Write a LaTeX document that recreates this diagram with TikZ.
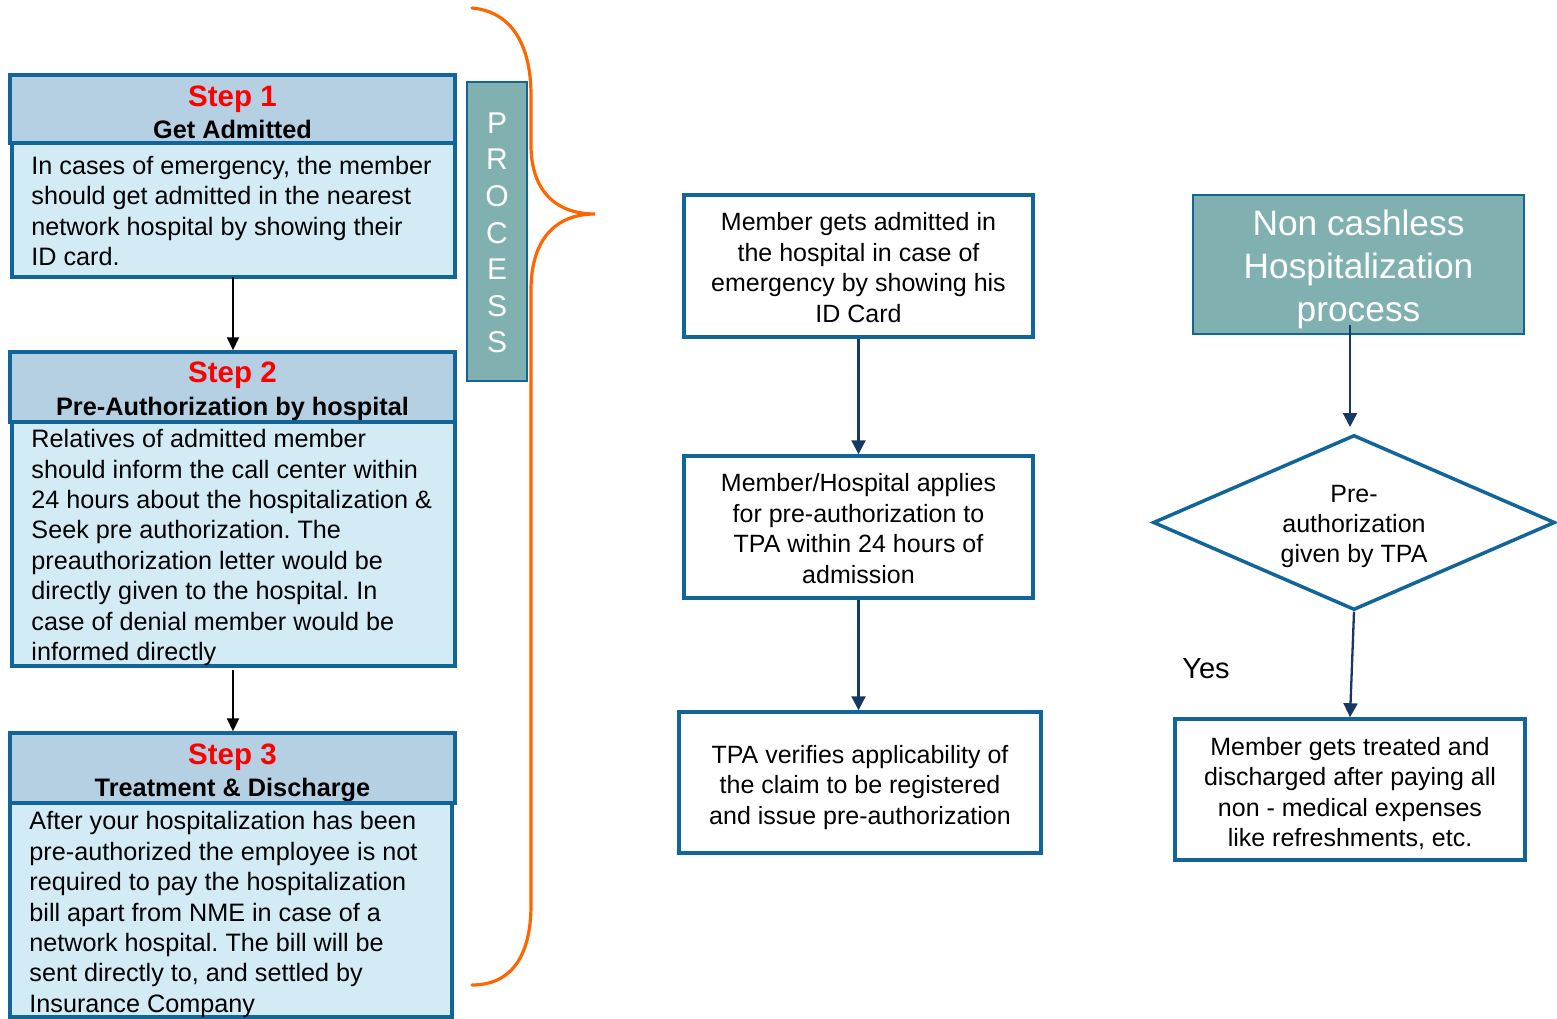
\documentclass[tikz,border=0pt]{standalone}
\usepackage{fontspec}
\setmainfont{Liberation Sans}
\frenchspacing
\usetikzlibrary{shapes.geometric,arrows.meta,calc}
\definecolor{oblue}{RGB}{17,101,153}
\definecolor{hdrfill}{RGB}{180,208,226}
\definecolor{bdyfill}{RGB}{210,235,245}
\definecolor{teal}{RGB}{128,177,176}
\definecolor{navy}{RGB}{22,56,100}
\definecolor{brace}{RGB}{255,102,0}
\definecolor{stepred}{RGB}{255,0,0}
\begin{document}
\begin{tikzpicture}[x=1pt,y=1pt,
  hdr/.style={draw=oblue,line width=3.5pt,fill=hdrfill,rectangle,inner sep=0pt},
  bdy/.style={draw=oblue,line width=3.5pt,fill=bdyfill,rectangle,inner sep=0pt},
  mbox/.style={draw=oblue,line width=3.5pt,fill=white,rectangle,inner sep=0pt},
  hdrtxt/.style={align=center,inner sep=0pt,font=\fontsize{25.3}{32.5}\selectfont\bfseries},
  bdytxt/.style={align=left,inner sep=0pt,font=\fontsize{25.2}{30.4}\selectfont},
  boxtxt/.style={align=center,inner sep=0pt,font=\fontsize{25}{30.4}\selectfont},
  barr/.style={draw=black,line width=2pt,-{Triangle[width=12pt,length=13pt]}},
  narr/.style={draw=navy,line width=2.3pt,-{Triangle[width=14pt,length=14pt]}}
]
\useasboundingbox (0,0) rectangle (1557,-1019);

% ---- Left column ----
\node[hdr,minimum width=445pt,minimum height=68pt] (h1) at (232.5,-109) {};
\node[hdrtxt] (h1t) at ($(h1.center)+(0,-3.5)$)
  {{\color{stepred}\fontsize{29.5}{30}\selectfont Step 1}\\Get Admitted};
\node[bdy,minimum width=443pt,minimum height=134pt] (b1) at (233.5,-210) {};
\node[bdytxt,anchor=west] (b1t) at ($(b1.west)+(21,-1)$)
  {In cases of emergency, the member\\should get admitted in the nearest\\network hospital by showing their\\ID card.};

\node[hdr,minimum width=445pt,minimum height=70pt] (h2) at (232.5,-387) {};
\node[hdrtxt] (h2t) at ($(h2.center)+(0,-4.5)$)
  {{\color{stepred}\fontsize{29.5}{30}\selectfont Step 2}\\Pre-Authorization by hospital};
\node[bdy,minimum width=443pt,minimum height=244pt] (b2) at (233.5,-544) {};
\node[bdytxt,anchor=west] (b2t) at ($(b2.west)+(21,-3.5)$)
  {Relatives of admitted member\\should inform the call center within\\24 hours about the hospitalization \&\\Seek pre authorization. The\\preauthorization letter would be\\directly given to the hospital. In\\case of denial member would be\\informed directly};

\node[hdr,minimum width=445pt,minimum height=70pt] (h3) at (232.5,-768) {};
\node[hdrtxt] (h3t) at ($(h3.center)+(0,-5)$)
  {{\color{stepred}\fontsize{29.5}{30}\selectfont Step 3}\\Treatment \& Discharge};
\node[bdy,minimum width=442pt,minimum height=214pt] (b3) at (231,-910) {};
\node[bdytxt,anchor=west] (b3t) at ($(b3.west)+(21,-4.5)$)
  {After your hospitalization has been\\pre-authorized the employee is not\\required to pay the hospitalization\\bill apart from NME in case of a\\network hospital. The bill will be\\sent directly to, and settled by\\Insurance Company};

\coordinate (a1s) at (233,-277);
\coordinate (a2s) at (233,-670);
\draw[barr] (a1s) -- (a1s |- h2.north);
\draw[barr] (a2s) -- (a2s |- h3.north);

% ---- PROCESS bar ----
\node[draw=oblue,line width=1.5pt,fill=teal,rectangle,minimum width=60pt,minimum height=299pt,
  inner sep=0pt] (proc) at (497,-231.5) {};
\node[align=center,inner sep=0pt,text=white,font=\fontsize{30}{36.6}\selectfont] (proct)
  at ($(proc.center)+(0,-1.5)$) {P\\R\\O\\C\\E\\S\\S};

% ---- Brace ----
\coordinate (btop) at (472,-8);
\coordinate (btip) at (595,-214);
\coordinate (bbot) at (472,-985);
\draw[brace,line width=3.2pt,line cap=round]
  (btop) .. controls (515,-12) and (531,-50) .. (531,-95)
  -- (531,-145) .. controls (531,-190) and (555,-214) .. (btip)
  .. controls (555,-214) and (531,-240) .. (531,-290)
  -- (531,-905) .. controls (531,-955) and (512,-985) .. (bbot);

% ---- Middle column ----
\node[mbox,minimum width=349pt,minimum height=142pt] (m1) at (858.5,-266) {};
\node[boxtxt] (m1t) at ($(m1.center)+(0,-1.5)$)
  {Member gets admitted in\\the hospital in case of\\emergency by showing his\\ID Card};
\node[mbox,minimum width=349pt,minimum height=142pt] (m2) at (858.5,-527) {};
\node[boxtxt] (m2t) at ($(m2.center)+(0,-1.5)$)
  {Member/Hospital applies\\for pre-authorization to\\TPA within 24 hours of\\admission};
\node[mbox,minimum width=362pt,minimum height=141pt] (m3) at (860,-782.5) {};
\node[boxtxt] (m3t) at ($(m3.center)+(0,-5)$)
  {TPA verifies applicability of\\the claim to be registered\\and issue pre-authorization};
\draw[narr] (m1.south) -- (m2.north);
\draw[narr] (m2.south) -- (m2.south |- m3.north);

% ---- Right column ----
\node[draw=oblue,line width=2pt,fill=teal,rectangle,minimum width=331pt,minimum height=139pt,
  inner sep=0pt] (t) at (1358.5,-264.5) {};
\node[align=center,inner sep=0pt,text=white,font=\fontsize{35.3}{43}\selectfont] (tt)
  at ($(t.center)+(0,-5)$) {Non cashless\\Hospitalization\\process};
\node[diamond,draw=oblue,line width=3.5pt,fill=white,minimum width=402pt,minimum height=175pt,
  aspect=2.3,inner sep=0pt] (d) at (1354,-522.5) {};
\node[boxtxt] (dt) at ($(d.center)+(0,-4)$) {Pre-\\authorization\\given by TPA};
\node[mbox,minimum width=350pt,minimum height=141pt] (r2) at (1350,-789.5) {};
\node[boxtxt] (r2t) at ($(r2.center)+(0,-4)$)
  {Member gets treated and\\discharged after paying all\\non - medical expenses\\like refreshments, etc.};
\node[font=\fontsize{29}{32}\selectfont,inner sep=0pt] (yes) at (1206,-669) {Yes};

\coordinate (ts) at (1350,-325);
\coordinate (dn) at (1350,-427);
\draw[narr] (ts) -- (dn);
\draw[narr] (d.south) -- (r2.north);
\end{tikzpicture}
\end{document}
